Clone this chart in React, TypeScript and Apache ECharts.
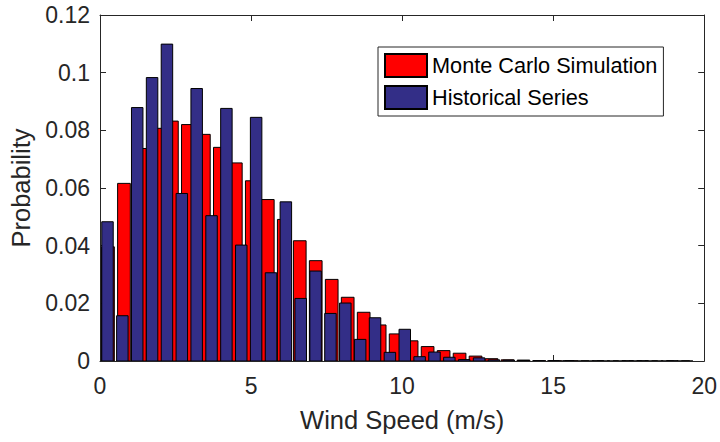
import React, { useEffect, useRef } from "react";
import * as echarts from "echarts";

// Histogram bins (m/s)
const mcFirstCenter = 0.264;
const mcBinWidth = 0.529;
const histFirstCenter = 0.248;
const histBinWidth = 0.492;

const monteCarloValues = [
  0.0396, 0.0616, 0.0737, 0.0807, 0.0832, 0.082, 0.0786, 0.0741, 0.0687, 0.0625,
  0.056, 0.0491, 0.0417, 0.0348, 0.0283, 0.0221, 0.0169, 0.0125, 0.0094, 0.007,
  0.005, 0.0036, 0.0027, 0.0017, 0.0008, 0.0004, 0.0003, 0.0001, 0.0001, 0.0001,
  0, 0, 0, 0, 0, 0, 0,
];

const historicalValues = [
  0.0483, 0.0157, 0.0879, 0.0983, 0.1099, 0.0581, 0.0945, 0.0504, 0.0876, 0.0402,
  0.0845, 0.0306, 0.0552, 0.0217, 0.0312, 0.0165, 0.0201, 0.0075, 0.015, 0.003,
  0.011, 0.0015, 0.0031, 0.0013, 0.0005, 0.0011, 0.0004, 0.0003, 0.0002, 0.0001,
  0.0001, 0.0001, 0, 0.0001, 0, 0.0001, 0.0001, 0, 0.0001, 0,
];

const xTicks = [0, 5, 10, 15, 20];
const yTicks = [0, 0.02, 0.04, 0.06, 0.08, 0.1, 0.12];

const seriesNames = ["Monte Carlo Simulation", "Historical Series"];

const FONT = "'Liberation Sans', Arial, Helvetica, sans-serif";
const AXIS_COLOR = "#262626";

function makeRender(width: number, fill: string) {
  return (params: any, api: any) => {
    const x = api.value(0);
    const y = api.value(1);
    const p0 = api.coord([x - width / 2, y]);
    const p1 = api.coord([x + width / 2, 0]);
    return {
      type: "rect",
      shape: { x: p0[0], y: p0[1], width: p1[0] - p0[0], height: p1[1] - p0[1] },
      style: { fill, stroke: "#000000", lineWidth: 1 },
    };
  };
}

export default function App() {
  const ref = useRef<HTMLDivElement>(null);
  useEffect(() => {
    if (!ref.current) return;
    const chart = echarts.init(ref.current, undefined, { renderer: "svg" });
    const mcData = monteCarloValues.map((v, i) => [mcFirstCenter + i * mcBinWidth, v]);
    const histData = historicalValues.map((v, i) => [histFirstCenter + i * histBinWidth, v]);
    const xMin = xTicks[0];
    const xMax = xTicks[xTicks.length - 1];
    const xInt = xTicks[1] - xTicks[0];
    const yMin = yTicks[0];
    const yMax = yTicks[yTicks.length - 1];
    const yInt = yTicks[1] - yTicks[0];
    const axisCommon = {
      axisLine: { show: true, onZero: false, lineStyle: { color: AXIS_COLOR, width: 1 } },
      axisTick: { show: true, inside: true, length: 6, lineStyle: { color: AXIS_COLOR } },
      splitLine: { show: false },
    };
    chart.setOption({
      animation: false,
      backgroundColor: "#ffffff",
      textStyle: { fontFamily: FONT },
      grid: { left: 100, right: 15, top: 15, bottom: 81 },
      legend: {
        data: seriesNames,
        orient: "vertical",
        left: 378,
        top: 47,
        padding: [6, 6, 6, 6],
        itemGap: 7,
        itemWidth: 42,
        itemHeight: 23,
        icon: "rect",
        borderColor: "#262626",
        borderWidth: 1,
        backgroundColor: "#ffffff",
        textStyle: { fontFamily: FONT, fontSize: 21.7, color: "#000000", lineHeight: 23 },
      },
      xAxis: [
        {
          type: "value",
          min: xMin,
          max: xMax,
          interval: xInt,
          position: "bottom",
          name: "Wind Speed (m/s)",
          nameLocation: "middle",
          nameGap: 46,
          nameTextStyle: { fontFamily: FONT, fontSize: 25.5, color: AXIS_COLOR },
          axisLabel: { fontFamily: FONT, fontSize: 23, color: AXIS_COLOR, margin: 13 },
          ...axisCommon,
        },
        {
          type: "value",
          min: xMin,
          max: xMax,
          interval: xInt,
          position: "top",
          axisLabel: { show: false },
          ...axisCommon,
        },
      ],
      yAxis: [
        {
          type: "value",
          min: yMin,
          max: yMax,
          interval: yInt,
          position: "left",
          name: "Probability",
          nameLocation: "middle",
          nameGap: 66,
          nameTextStyle: { fontFamily: FONT, fontSize: 25.5, color: AXIS_COLOR },
          axisLabel: { fontFamily: FONT, fontSize: 23, color: AXIS_COLOR, margin: 10 },
          ...axisCommon,
        },
        {
          type: "value",
          min: yMin,
          max: yMax,
          interval: yInt,
          position: "right",
          axisLabel: { show: false },
          ...axisCommon,
        },
      ],
      series: [
        {
          name: seriesNames[0],
          type: "custom",
          xAxisIndex: 0,
          yAxisIndex: 0,
          clip: true,
          itemStyle: { color: "#ff0000", borderColor: "#000000", borderWidth: 1 },
          renderItem: makeRender(0.42, "#ff0000"),
          encode: { x: 0, y: 1 },
          data: mcData,
        },
        {
          name: seriesNames[1],
          type: "custom",
          xAxisIndex: 0,
          yAxisIndex: 0,
          clip: true,
          itemStyle: { color: "#332e87", borderColor: "#000000", borderWidth: 1 },
          renderItem: makeRender(0.38, "#332e87"),
          encode: { x: 0, y: 1 },
          data: histData,
        },
      ],
    });
    return () => chart.dispose();
  }, []);
  return (
    <div
      ref={ref}
      style={{ position: "fixed", left: 0, top: 0, width: 720, height: 442 }}
    />
  );
}
